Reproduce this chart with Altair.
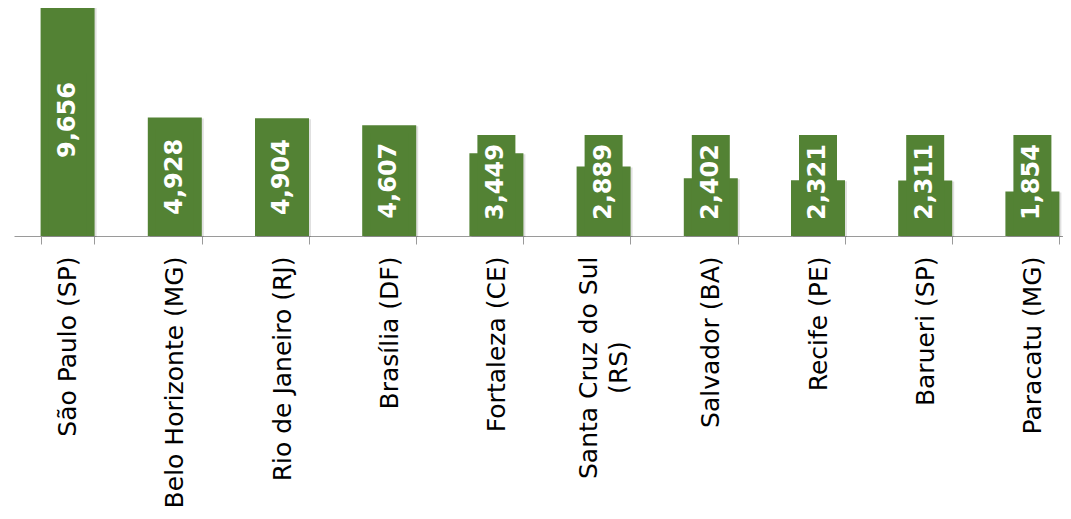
import altair as alt
import pandas as pd

cities = ["São Paulo (SP)", "Belo Horizonte (MG)", "Rio de Janeiro (RJ)", "Brasília (DF)",
          "Fortaleza (CE)", "Santa Cruz do Sul (RS)", "Salvador (BA)", "Recife (PE)",
          "Barueri (SP)", "Paracatu (MG)"]
values = [9656, 4928, 4904, 4607, 3449, 2889, 2402, 2321, 2311, 1854]
wrapped_city = "Santa Cruz do Sul (RS)"
wrapped_first = "Santa Cruz do Sul"
wrapped_second = "(RS)"

GREEN = "#538234"
H = 228
W = 1072
YMAX = 9489
PX = H / YMAX           # pixels per unit
LBL_MIN = 54 / PX       # lowest centre of a value label (54 px above baseline)
BOX_HALF = 47 / PX      # label box reaches 47 px above label centre
LH = 31

df = pd.DataFrame({"city": cities, "value": values})
df2 = pd.DataFrame({"city": [wrapped_city], "txt": [wrapped_second]})

label_expr = f"datum.label == '{wrapped_city}' ? '{wrapped_first}' : datum.label"

x = alt.X("city:N", sort=cities, title=None,
          scale=alt.Scale(paddingInner=0.5, paddingOuter=0.25),
          axis=alt.Axis(labelAngle=-90, labelFont="DejaVu Sans", labelFontSize=25,
                        labelColor="#000000", labelPadding=12,
                        labelExpr=label_expr, labelLimit=0,
                        labelOffset={"condition": {"test": f"datum.value == '{wrapped_city}'",
                                                   "value": -LH / 2},
                                     "value": 0},
                        domainColor="#9a9a9a", tickColor="#9a9a9a", tickSize=8,
                        tickBand="extent", labelOverlap=False))
yscale = alt.Scale(domain=[0, YMAX], nice=False, zero=True)

base = alt.Chart(df).transform_calculate(
    lc=f"max(datum.value / 2, {LBL_MIN})"
).transform_calculate(
    bt=f"datum.lc + {BOX_HALF}",
    zero="0"
)

shadow = base.mark_bar(size=54, color="#000000", opacity=0.12, xOffset=2, yOffset=1).encode(
    x=x, y=alt.Y("value:Q", scale=yscale, axis=None))
bars = base.mark_bar(size=54, color=GREEN).encode(
    x=x, y=alt.Y("value:Q", scale=yscale, axis=None))
box = base.mark_bar(size=38, color=GREEN).encode(
    x=x, y=alt.Y("zero:Q", scale=yscale, axis=None), y2="bt:Q")
text = base.mark_text(angle=270, align="center", baseline="middle", font="DejaVu Sans",
                      fontSize=24, fontWeight="bold", color="white").encode(
    x=x, y=alt.Y("lc:Q", scale=yscale, axis=None),
    text=alt.Text("value:Q", format=","))

# second line of the wrapped label, centred under the first line
first_len = 223  # px length of the first line at 25px
second = alt.Chart(df2).mark_text(angle=270, align="center", baseline="middle",
                                  font="DejaVu Sans", fontSize=25, color="#000000",
                                  dy=LH / 2).encode(
    x=x, y=alt.value(H + 8 + 12 + first_len / 2), text="txt:N")

chart = alt.layer(shadow, bars, box, text, second).properties(
    width=W, height=H,
    autosize=alt.AutoSizeParams(type="none"),
    padding={"left": 6, "top": 0, "right": 1055 - 6 - W, "bottom": 503 - H}
).configure(background="white").configure_view(stroke=None, strokeWidth=0)

chart.save("out.html", embed_options={"renderer": "svg", "actions": False})
